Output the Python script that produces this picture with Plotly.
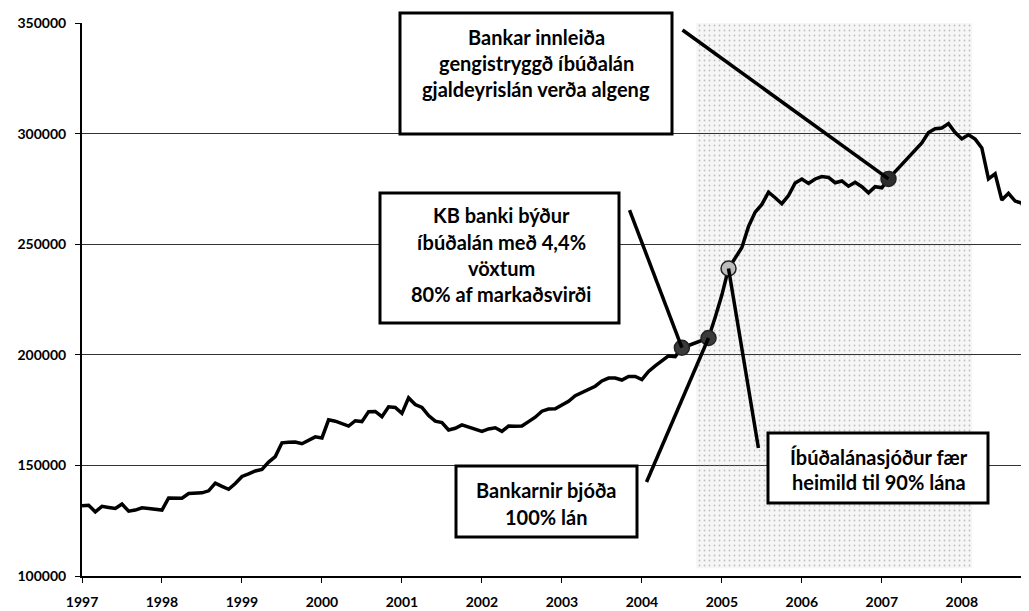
import plotly.graph_objects as go

# Vísitala / verð íbúða, mánaðargildi frá jan 1997 (lesið af mynd)
start_year = 1997
values = [
    131700, 132000, 129000, 131500, 131000, 130500, 132500, 129300, 129800, 130800, 130500, 130300,
    129800, 135300, 135300, 135200, 137300, 137600, 137600, 138500, 142000, 140500, 139200, 141800,
    145000, 146200, 147500, 148200, 151500, 154000, 160200, 160500, 160600, 159800, 161500, 162900,
    162400, 170600, 170000, 168800, 167800, 170200, 169800, 174300, 174400, 172000, 176500, 176200,
    173500, 180500, 177500, 176200, 172500, 170000, 169400, 166000, 166800, 168300, 167200, 166200,
    165400, 166500, 167000, 165400, 167800, 167700, 167800, 169800, 171800, 174500, 175500, 175600,
    177300, 179000, 181500, 183000, 184500, 185800, 188200, 189500, 189500, 188600, 190200, 190200,
    188800, 192500, 195000, 197500, 199500, 199200, 203200, 204200, 205200, 206500, 207600, 217000,
    227000, 239000, 243500, 248500, 258000, 264500, 268000, 273500, 271000, 268300, 272000, 277700,
    279500, 277500, 279500, 280600, 280200, 277800, 278600, 276200, 278000, 276000, 273200, 276000,
    275500, 279500, 282800, 286000, 289500, 292500, 295800, 300500, 302200, 302500, 304500, 300500,
    297600, 299500, 297500, 293500, 279500, 281800, 270000, 273000, 269500, 268600, 259600,
]
years = [start_year + i / 12 for i in range(len(values))]

# atburðir: (mánuður nr.)
event_idx = [90, 94, 97, 121]
event_colors = ['#3a3a3a', '#3a3a3a', '#bdbdbd', '#2e2e2e']

tick_years = list(range(1997, 2009))

# síðan hefur 8px spássíu í body, því er myndin 8px minni
# pixel (á síðu) -> paper hnit (plot svæði 82..1029 x 23..576)
def px(x):
    return (x - 82) / 947

def py(y):
    return (576 - y) / 553

def dx(x):
    return start_year + (x - 82) / 80.05

def dy(y):
    return 350000 - (y - 23) * 452.1

fig = go.Figure()

# skyggða svæðið
fig.add_trace(go.Scatter(
    x=[2004.68, 2008.13, 2008.13, 2004.68, 2004.68],
    y=[103500, 103500, 350000, 350000, 103500],
    fill='toself', mode='lines', line=dict(width=0),
    fillpattern=dict(shape='.', fgcolor='#888888', bgcolor='rgba(0,0,0,0.035)',
                     size=5, solidity=0.1),
    hoverinfo='skip', showlegend=False))

fig.add_trace(go.Scatter(x=years, y=values, mode='lines',
                         line=dict(color='black', width=3.5), showlegend=False))

# línur frá kössum að punktum
line_starts = [(683, 30, 121), (630, 210, 90), (647, 482, 94), (759, 448, 97)]
for sx, sy, idx in line_starts:
    fig.add_shape(type='line', x0=dx(sx), y0=dy(sy), x1=years[idx], y1=values[idx],
                  line=dict(color='black', width=3.5))

fig.add_trace(go.Scatter(
    x=[years[i] for i in event_idx], y=[values[i] for i in event_idx], mode='markers',
    marker=dict(size=15, color=event_colors, line=dict(color='#222', width=1.5)),
    showlegend=False))

boxes = [
    ((400, 672, 13, 134), 536, [(37, 'Bankar innleiða'), (63, 'gengistryggð íbúðalán'),
                                (89, 'gjaldeyrislán verða algeng')]),
    ((380, 619, 193, 323), 501, [(215, 'KB banki býður'), (242, 'íbúðalán með 4,4%'),
                                 (268, 'vöxtum'), (294, '80% af markaðsvirði')]),
    ((456, 637, 466, 537), 546, [(490, 'Bankarnir bjóða'), (517, '100% lán')]),
    ((768, 988, 433, 503), 879, [(457, 'Íbúðalánasjóður fær'), (482, 'heimild til 90% lána')]),
]
for (x0, x1, y0, y1), cx, lines in boxes:
    fig.add_shape(type='rect', xref='paper', yref='paper',
                  x0=px(x0), x1=px(x1), y0=py(y1), y1=py(y0),
                  fillcolor='white', line=dict(color='black', width=3), layer='above')
    for ly, txt in lines:
        fig.add_annotation(xref='paper', yref='paper', x=px(cx), y=py(ly), text=txt,
                           showarrow=False, xanchor='center', yanchor='middle',
                           font=dict(family='Lato', size=20, color='black', weight='bold'))

fig.update_layout(
    width=1021, height=603,
    margin=dict(l=74, r=0, t=15, b=35),
    plot_bgcolor='white', paper_bgcolor='white',
    font=dict(family='Lato', color='black'),
)
fig.update_xaxes(range=[1997, 2008.84], tickvals=tick_years, ticktext=[str(y) for y in tick_years],
                 showgrid=False, showline=True, linecolor='black', linewidth=2,
                 ticks='outside', ticklen=5, tickcolor='black', ticklabelstandoff=7,
                 tickfont=dict(size=14, weight='bold'), zeroline=False, automargin=False)
fig.update_yaxes(range=[100000, 350000], tickvals=[100000, 150000, 200000, 250000, 300000, 350000],
                 ticktext=['100000', '150000', '200000', '250000', '300000', '350000'],
                 showgrid=True, gridcolor='#333333', gridwidth=1,
                 showline=True, linecolor='black', linewidth=2,
                 ticks='outside', ticklen=5, tickcolor='black', ticklabelstandoff=6,
                 tickfont=dict(size=14, weight='bold'), zeroline=False, automargin=False)

fig.write_html("out.html")
